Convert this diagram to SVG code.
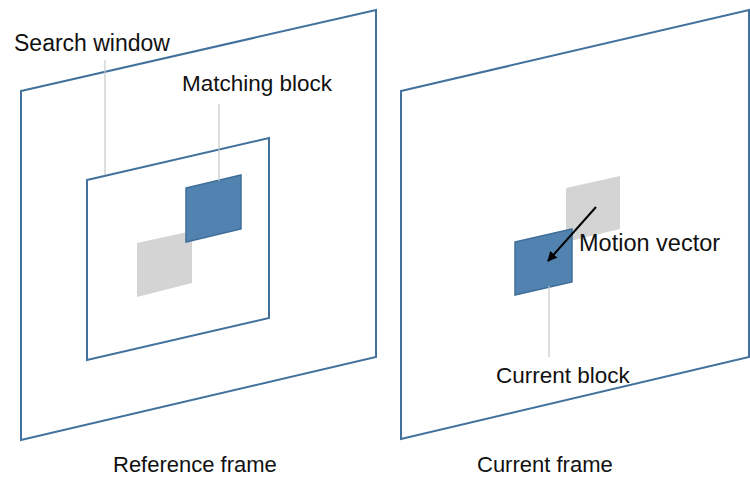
<svg xmlns="http://www.w3.org/2000/svg" width="750" height="478" viewBox="0 0 750 478">
<defs>
<style>
.frame{fill:none;stroke:#41719c;stroke-width:2}
.blk{fill:#5282b0;stroke:#3f6f99;stroke-width:1.5}
.gray{fill:#d4d4d4}
.lead{stroke:#c8c8c8;stroke-width:1.2;fill:none}
.lbl{font-family:"Liberation Sans",Arial,sans-serif;font-size:22.5px;fill:#111}
</style>
<marker id="ah" viewBox="0 0 10 10" refX="9" refY="5" markerWidth="5" markerHeight="5" orient="auto" markerUnits="strokeWidth">
<path d="M0,0 L10,5 L0,10 z" fill="#000"/>
</marker>
</defs>
<rect width="750" height="478" fill="#fff"/>
<g id="reference-frame">
<polygon class="frame" points="21,91 376,10 376,357 21,440"/>
<text class="lbl" x="113" y="472" style="font-size:22px">Reference frame</text>
</g>
<g id="search-window">
<polygon class="frame" points="87,180 269,138 269,318 87,360"/>
<text class="lbl" x="14" y="51" style="font-size:23px">Search window</text>
</g>
<g id="ref-gray-block">
<polygon class="gray" points="137,243 192,231 192,283 137,297"/>
</g>
<g id="matching-block">
<polygon class="blk" points="186,188 241,175 241,229 186,242"/>
<text class="lbl" x="182" y="91">Matching block</text>
</g>
<g id="current-frame">
<polygon class="frame" points="401,91 749,10 749,357 401,439"/>
<text class="lbl" x="477" y="472" style="font-size:22px">Current frame</text>
</g>
<g id="cur-gray-block">
<polygon class="gray" points="566,188 620,176 620,229 566,242"/>
</g>
<g id="current-block">
<polygon class="blk" points="515,242 572,229 572,282 515,295"/>
<text class="lbl" x="496" y="383">Current block</text>
</g>
<g id="motion-vector-label">
<text class="lbl" x="579" y="251" style="font-size:23.5px">Motion vector</text>
</g>
<g id="connectors">
<line class="lead" x1="105" y1="60" x2="105" y2="175"/>
<line class="lead" x1="219" y1="104" x2="219" y2="181"/>
<line class="lead" x1="549" y1="286" x2="549" y2="357"/>
<line x1="596" y1="207" x2="548" y2="261" stroke="#000" stroke-width="2" marker-end="url(#ah)"/>
</g>
</svg>
